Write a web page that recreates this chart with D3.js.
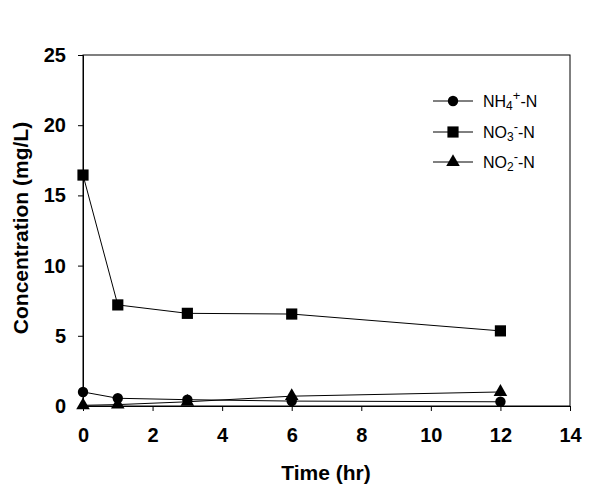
<!DOCTYPE html>
<html><head><meta charset="utf-8">
<script src="https://cdn.jsdelivr.net/npm/d3@7"></script>
<style>body{margin:0;background:#fff}svg{display:block}text{font-family:Arial,"Liberation Sans",sans-serif}</style>
</head><body>
<svg id="c" width="600" height="490"></svg>
<script>
const times = [0, 1, 3, 6, 12];
const nh4 = [1.0, 0.55, 0.45, 0.35, 0.3];
const no3 = [16.45, 7.2, 6.6, 6.55, 5.35];
const no2 = [0.05, 0.1, 0.3, 0.7, 1.0];
const xTicks = [0, 2, 4, 6, 8, 10, 12, 14];
const yTicks = [0, 5, 10, 15, 20, 25];
const series = [
  {name: "NH4", sup: "+", values: nh4, shape: d3.symbolCircle, size: 85},
  {name: "NO3", sup: "-", values: no3, shape: d3.symbolSquare, size: 125},
  {name: "NO2", sup: "-", values: no2, shape: d3.symbolTriangle, size: 80}
];

const svg = d3.select("#c");
const L = 83, R = 570, T = 55, B = 406;
const x = d3.scaleLinear().domain([0, 14]).range([L, R]);
const y = d3.scaleLinear().domain([0, 25]).range([B, T]);

// frame
svg.append("rect").attr("x", L).attr("y", T).attr("width", R - L).attr("height", B - T)
  .attr("fill", "none").attr("stroke", "#000").attr("stroke-width", 1);

const xa = svg.append("g").attr("transform", `translate(0,${B})`)
  .call(d3.axisBottom(x).tickValues(xTicks).tickSize(5).tickPadding(17));
const ya = svg.append("g").attr("transform", `translate(${L},0)`)
  .call(d3.axisLeft(y).tickValues(yTicks).tickSize(5).tickPadding(12));
[xa, ya].forEach(a => {
  a.select(".domain").attr("stroke", "#000");
  a.selectAll("line").attr("stroke", "#000");
  a.selectAll("text").attr("font-size", 20).attr("font-weight", "bold").attr("fill", "#000")
    .style("font-family", "Arial, 'Liberation Sans', sans-serif");
});

svg.append("text").attr("x", 326).attr("y", 480).attr("text-anchor", "middle")
  .attr("font-size", 21).attr("font-weight", "bold").text("Time (hr)");
svg.append("text").attr("transform", `translate(28,228) rotate(-90)`)
  .attr("text-anchor", "middle").attr("font-size", 21).attr("font-weight", "bold")
  .text("Concentration (mg/L)");

const line = d3.line().x((d, i) => x(times[i])).y(d => y(d));
series.forEach(s => {
  svg.append("path").attr("d", line(s.values)).attr("fill", "none").attr("stroke", "#000").attr("stroke-width", 1);
  svg.selectAll(null).data(s.values).enter().append("path")
    .attr("d", d3.symbol().type(s.shape).size(s.size))
    .attr("transform", (d, i) => `translate(${x(times[i])},${y(d)})`)
    .attr("fill", "#000");
});

// legend
const legY = [101, 132, 162];
series.forEach((s, i) => {
  const g = svg.append("g").attr("transform", `translate(0,${legY[i]})`);
  g.append("line").attr("x1", 433).attr("x2", 473).attr("y1", 0).attr("y2", 0).attr("stroke", "#000");
  g.append("path").attr("d", d3.symbol().type(s.shape).size(s.size)).attr("transform", "translate(453,0)").attr("fill", "#000");
  const t = g.append("text").attr("x", 483).attr("y", 6).attr("font-size", 16).attr("fill", "#000");
  t.append("tspan").text(s.name.slice(0, 2));
  t.append("tspan").attr("font-size", 12).attr("dy", 3).text(s.name.slice(2));
  t.append("tspan").attr("font-size", 13).attr("dy", -10).text(s.sup);
  t.append("tspan").attr("dy", 7).text("-N");
});
</script>
</body></html>
